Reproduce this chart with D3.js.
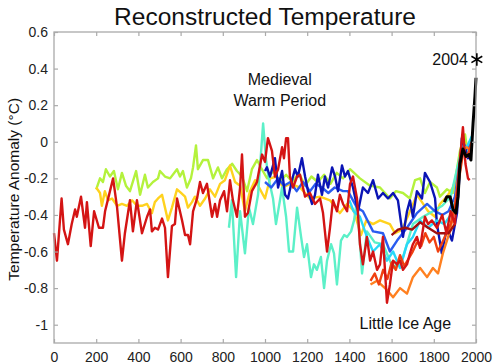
<!DOCTYPE html>
<html><head><meta charset="utf-8">
<script src="https://cdn.jsdelivr.net/npm/d3@7"></script>
<style>body{margin:0;background:#fff}svg{display:block}text{font-family:"Liberation Sans",Arial,sans-serif}</style>
</head><body><svg id="c" width="500" height="364"></svg>
<script>
const xTicks = [0,200,400,600,800,1000,1200,1400,1600,1800,2000];
const yTicks = [0.6,0.4,0.2,0,-0.2,-0.4,-0.6,-0.8,-1];
const yTickLabels = ["0.6","0.4","0.2","0","-0.2","-0.4","-0.6","-0.8","-1"];

const redSeries = [[0,-0.50],[14,-0.65],[36,-0.31],[47,-0.48],[66,-0.56],[84,-0.45],[100,-0.37],[108,-0.41],[128,-0.30],[147,-0.47],[156,-0.33],[174,-0.57],[190,-0.38],[213,-0.47],[232,-0.47],[242,-0.38],[280,-0.20],[299,-0.36],[322,-0.65],[336,-0.50],[360,-0.32],[374,-0.49],[393,-0.32],[417,-0.50],[441,-0.41],[455,-0.37],[464,-0.49],[478,-0.47],[493,-0.48],[512,-0.42],[526,-0.47],[540,-0.74],[559,-0.46],[573,-0.45],[583,-0.31],[607,-0.43],[621,-0.51],[635,-0.51],[645,-0.56],[659,-0.38],[678,-0.31],[692,-0.22],[706,-0.28],[725,-0.23],[749,-0.41],[763,-0.34],[773,-0.41],[787,-0.32],[806,-0.27],[820,-0.38],[834,-0.21],[848,-0.32],[867,-0.41],[882,-0.25],[891,-0.07],[905,-0.41],[919,-0.39],[938,-0.27],[962,-0.22],[986,-0.07],[1000,-0.11],[1014,0.02],[1033,-0.05],[1047,-0.19],[1062,-0.15],[1081,-0.03],[1090,-0.09],[1100,0.02],[1109,0.02],[1118,-0.19],[1133,-0.25],[1152,-0.19],[1166,-0.18],[1190,-0.30],[1213,-0.28],[1237,-0.34],[1261,-0.31],[1275,-0.39],[1294,-0.60],[1308,-0.47],[1322,-0.32],[1341,-0.38],[1355,-0.29],[1370,-0.34],[1389,-0.38],[1403,-0.23],[1417,-0.19],[1436,-0.31],[1450,-0.56],[1464,-0.67],[1483,-0.52],[1498,-0.65],[1512,-0.60],[1531,-0.70],[1545,-0.67],[1559,-0.52],[1578,-0.88],[1592,-0.78],[1607,-0.65],[1626,-0.67],[1640,-0.65],[1654,-0.70],[1673,-0.67],[1687,-0.61],[1701,-0.56],[1720,-0.52],[1735,-0.58],[1758,-0.41],[1773,-0.45],[1791,-0.43],[1815,-0.47],[1840,-0.40],[1860,-0.50],[1880,-0.38],[1900,-0.45],[1920,-0.15],[1938,0.08],[1950,-0.12],[1962,-0.20],[1970,-0.21]];

const greenSeries = [[200,-0.26],[218,-0.20],[232,-0.22],[246,-0.15],[265,-0.19],[284,-0.16],[303,-0.26],[322,-0.17],[341,-0.24],[360,-0.27],[389,-0.16],[408,-0.29],[431,-0.18],[445,-0.25],[469,-0.22],[493,-0.20],[502,-0.16],[526,-0.19],[550,-0.20],[583,-0.15],[597,-0.19],[611,-0.16],[630,-0.25],[649,-0.20],[659,-0.14],[673,-0.02],[682,-0.15],[706,-0.10],[730,-0.10],[754,-0.20],[777,-0.14],[796,-0.20],[820,-0.15],[844,-0.12],[867,-0.16],[891,-0.19],[915,-0.27],[938,-0.15],[962,-0.10],[985,-0.15],[1010,-0.20],[1040,-0.16],[1070,-0.22],[1100,-0.18],[1130,-0.22],[1160,-0.17],[1190,-0.24],[1220,-0.19],[1250,-0.22],[1280,-0.18],[1310,-0.23],[1340,-0.17],[1370,-0.20],[1403,-0.15],[1450,-0.20],[1498,-0.24],[1545,-0.25],[1592,-0.31],[1620,-0.27],[1654,-0.28],[1687,-0.31],[1711,-0.21],[1735,-0.20],[1758,-0.28],[1782,-0.22],[1815,-0.25],[1829,-0.30],[1862,-0.26],[1891,-0.28],[1924,-0.05],[1948,0.04],[1962,-0.07],[1980,-0.03]];

const yellowSeries = [[200,-0.25],[218,-0.28],[227,-0.35],[241,-0.27],[256,-0.32],[275,-0.31],[299,-0.35],[322,-0.34],[346,-0.35],[370,-0.32],[393,-0.35],[417,-0.35],[441,-0.34],[464,-0.39],[478,-0.33],[493,-0.31],[512,-0.29],[526,-0.36],[540,-0.43],[559,-0.36],[583,-0.26],[602,-0.28],[621,-0.30],[635,-0.36],[654,-0.33],[668,-0.30],[692,-0.35],[716,-0.31],[739,-0.26],[763,-0.30],[787,-0.23],[810,-0.21],[834,-0.13],[858,-0.22],[882,-0.24],[905,-0.38],[929,-0.27],[953,-0.21],[1000,-0.31],[1024,-0.20],[1057,-0.19],[1085,-0.25],[1118,-0.23],[1166,-0.25],[1213,-0.31],[1261,-0.30],[1308,-0.32],[1355,-0.39],[1389,-0.34],[1422,-0.38],[1455,-0.51],[1480,-0.43],[1512,-0.45],[1545,-0.43],[1592,-0.45],[1616,-0.50],[1650,-0.48],[1687,-0.38],[1720,-0.29],[1744,-0.33],[1773,-0.38],[1806,-0.41],[1829,-0.34],[1862,-0.30],[1891,-0.25],[1920,-0.15],[1945,0.0],[1970,-0.05]];

const turquoiseSeries = [[829,-0.47],[843,-0.32],[863,-0.74],[882,-0.38],[905,-0.61],[924,-0.36],[943,-0.45],[967,-0.29],[991,0.10],[1005,-0.10],[1019,-0.21],[1038,-0.31],[1052,-0.45],[1071,-0.32],[1081,-0.25],[1100,-0.41],[1114,-0.60],[1133,-0.60],[1152,-0.36],[1171,-0.52],[1185,-0.63],[1199,-0.56],[1218,-0.74],[1232,-0.67],[1246,-0.70],[1265,-0.63],[1280,-0.80],[1294,-0.65],[1313,-0.56],[1327,-0.61],[1341,-0.78],[1360,-0.54],[1375,-0.51],[1389,-0.52],[1408,-0.49],[1422,-0.43],[1436,-0.32],[1460,-0.72],[1483,-0.49],[1520,-0.55],[1559,-0.56],[1607,-0.69],[1654,-0.63],[1701,-0.45],[1749,-0.41],[1796,-0.38],[1840,-0.35],[1880,-0.30],[1920,-0.10],[1940,0.0],[1960,-0.05],[1980,0.0]];

const darkBlueSeries = [[1000,-0.16],[1009,-0.14],[1024,-0.19],[1047,-0.09],[1062,-0.25],[1081,-0.16],[1095,-0.29],[1109,-0.31],[1128,-0.21],[1142,-0.15],[1156,-0.19],[1175,-0.09],[1190,-0.19],[1204,-0.27],[1223,-0.34],[1237,-0.29],[1251,-0.18],[1270,-0.29],[1284,-0.19],[1299,-0.25],[1318,-0.14],[1332,-0.19],[1346,-0.27],[1365,-0.13],[1379,-0.19],[1393,-0.16],[1417,-0.25],[1441,-0.38],[1464,-0.25],[1488,-0.28],[1512,-0.21],[1536,-0.31],[1559,-0.28],[1583,-0.31],[1607,-0.28],[1630,-0.32],[1654,-0.52],[1673,-0.38],[1687,-0.32],[1701,-0.41],[1720,-0.27],[1744,-0.31],[1758,-0.17],[1782,-0.22],[1806,-0.31],[1815,-0.45],[1838,-0.61],[1862,-0.47],[1886,-0.54],[1910,-0.39],[1933,0.02],[1948,-0.03],[1962,-0.09],[1980,-0.02]];

const blueSeries = [[1000,-0.22],[1030,-0.25],[1062,-0.20],[1090,-0.24],[1120,-0.22],[1150,-0.27],[1180,-0.22],[1213,-0.27],[1240,-0.23],[1270,-0.25],[1300,-0.28],[1330,-0.25],[1370,-0.27],[1393,-0.27],[1436,-0.36],[1464,-0.38],[1490,-0.44],[1512,-0.49],[1559,-0.50],[1592,-0.60],[1626,-0.54],[1673,-0.47],[1720,-0.39],[1768,-0.34],[1806,-0.38],[1840,-0.40],[1870,-0.38],[1900,-0.30],[1930,-0.05],[1950,-0.05],[1980,0.0]];

const cyanSeries = [[1400,-0.32],[1420,-0.38],[1450,-0.41],[1483,-0.52],[1512,-0.60],[1545,-0.56],[1578,-0.65],[1607,-0.60],[1640,-0.69],[1673,-0.56],[1701,-0.52],[1735,-0.43],[1773,-0.47],[1815,-0.43],[1850,-0.45],[1880,-0.40],[1910,-0.30],[1935,-0.05],[1960,-0.02],[1980,0.03]];

const orangeRedSeries = [[1500,-0.76],[1520,-0.72],[1540,-0.78],[1560,-0.70],[1580,-0.75],[1600,-0.66],[1620,-0.70],[1640,-0.62],[1660,-0.68],[1680,-0.64],[1700,-0.60],[1720,-0.55],[1740,-0.57],[1760,-0.50],[1780,-0.55],[1800,-0.52],[1820,-0.60],[1840,-0.55],[1860,-0.50],[1880,-0.45],[1900,-0.35],[1920,-0.20],[1940,-0.05],[1960,-0.08],[1980,0.0]];

const orangeSeries = [[1500,-0.78],[1531,-0.76],[1578,-0.81],[1607,-0.85],[1640,-0.80],[1673,-0.83],[1701,-0.74],[1735,-0.69],[1768,-0.74],[1796,-0.69],[1820,-0.72],[1843,-0.61],[1876,-0.49],[1900,-0.36],[1929,-0.05],[1957,-0.03],[1975,-0.05]];

const maroonSeries = [[1600,-0.51],[1630,-0.48],[1664,-0.47],[1697,-0.48],[1735,-0.44],[1773,-0.47],[1815,-0.50],[1840,-0.50],[1870,-0.50],[1900,-0.45]];

const instrumental = [[1850,-0.33],[1862,-0.30],[1877,-0.30],[1891,-0.37],[1905,-0.39],[1915,-0.30],[1924,-0.12],[1938,-0.04],[1953,-0.08],[1967,-0.07],[1976,-0.10],[1986,0.10],[1995,0.25],[2000,0.35]];

const marker2004 = [2004, 0.45];

const seriesList = [
  {data: greenSeries, color: "#b4f23c"},
  {data: yellowSeries, color: "#ffd21e"},
  {data: turquoiseSeries, color: "#5cf0c8"},
  {data: blueSeries, color: "#2a5cf0"},
  {data: darkBlueSeries, color: "#0a14b4"},
  {data: cyanSeries, color: "#28d8f8"},
  {data: orangeSeries, color: "#ff8020"},
  {data: orangeRedSeries, color: "#f04010"},
  {data: maroonSeries, color: "#a01010"},
  {data: redSeries, color: "#d41414"}
];

const svg = d3.select("#c");
const W = 500, H = 364;
const m = {left: 54, right: 24, top: 32, bottom: 21};
const x = d3.scaleLinear().domain([0, 2000]).range([m.left, W - m.right]);
const y = d3.scaleLinear().domain([-1.1, 0.6]).range([H - m.bottom, m.top]);

const plot = svg.append("g");
const line = d3.line().x(d => x(d[0])).y(d => y(d[1]));

seriesList.forEach(s => {
  plot.append("path").datum(s.data).attr("d", line)
    .attr("fill", "none").attr("stroke", s.color).attr("stroke-width", 2.4).attr("stroke-linejoin", "round");
});
plot.append("path").datum(instrumental).attr("d", line)
  .attr("fill", "none").attr("stroke", "#000").attr("stroke-width", 3).attr("stroke-linejoin", "round");

// frame
const frameColor = "#aaa";
svg.append("rect").attr("x", x(0)).attr("y", y(0.6)).attr("width", x(2000) - x(0)).attr("height", y(-1.1) - y(0.6))
  .attr("fill", "none").attr("stroke", frameColor).attr("stroke-width", 1.3);

// axes
const gx = svg.append("g").attr("transform", `translate(0,${y(-1.1)})`)
  .call(d3.axisBottom(x).tickValues(xTicks).tickSize(-4).tickPadding(9).tickFormat(d3.format("d")));
const gxt = svg.append("g").attr("transform", `translate(0,${y(0.6)})`)
  .call(d3.axisTop(x).tickValues(xTicks).tickSize(-4).tickFormat(""));
const gy = svg.append("g").attr("transform", `translate(${x(0)},0)`)
  .call(d3.axisLeft(y).tickValues(yTicks).tickSize(-4).tickPadding(6).tickFormat((d, i) => yTickLabels[i]));
const gyr = svg.append("g").attr("transform", `translate(${x(2000)},0)`)
  .call(d3.axisRight(y).tickValues(yTicks).tickSize(-4).tickFormat(""));
[gx, gxt, gy, gyr].forEach(g => {
  g.select(".domain").remove();
  g.selectAll(".tick line").attr("stroke", frameColor).attr("stroke-width", 1.2);
  g.selectAll("text").attr("fill", "#222").style("font-size", "14px").style("font-family", "Liberation Sans, Arial, sans-serif");
});

// titles
svg.append("text").attr("x", 265).attr("y", 25).attr("text-anchor", "middle")
  .style("font-size", "24.5px").attr("fill", "#111").text("Reconstructed Temperature");
svg.append("text").attr("transform", `translate(19,${y(-0.26)}) rotate(-90)`).attr("text-anchor", "middle")
  .style("font-size", "15.5px").attr("fill", "#111").text("Temperature Anomaly (°C)");

// annotations
svg.append("text").attr("x", x(1070)).attr("y", y(0.31)).attr("text-anchor", "middle")
  .style("font-size", "16px").attr("fill", "#111").text("Medieval");
svg.append("text").attr("x", x(1070)).attr("y", y(0.195)).attr("text-anchor", "middle")
  .style("font-size", "16px").attr("fill", "#111").text("Warm Period");
svg.append("text").attr("x", x(1665)).attr("y", y(-1.025)).attr("text-anchor", "middle")
  .style("font-size", "16px").attr("fill", "#111").text("Little Ice Age");
svg.append("text").attr("x", x(marker2004[0]) - 9).attr("y", y(marker2004[1]) + 6).attr("text-anchor", "end")
  .style("font-size", "16px").attr("fill", "#111").text("2004");
svg.append("path").attr("d", d3.symbol(d3.symbolAsterisk, 110)())
  .attr("transform", `translate(${x(marker2004[0])},${y(marker2004[1])})`)
  .attr("fill", "none").attr("stroke", "#000").attr("stroke-width", 1.6);
</script></body></html>
